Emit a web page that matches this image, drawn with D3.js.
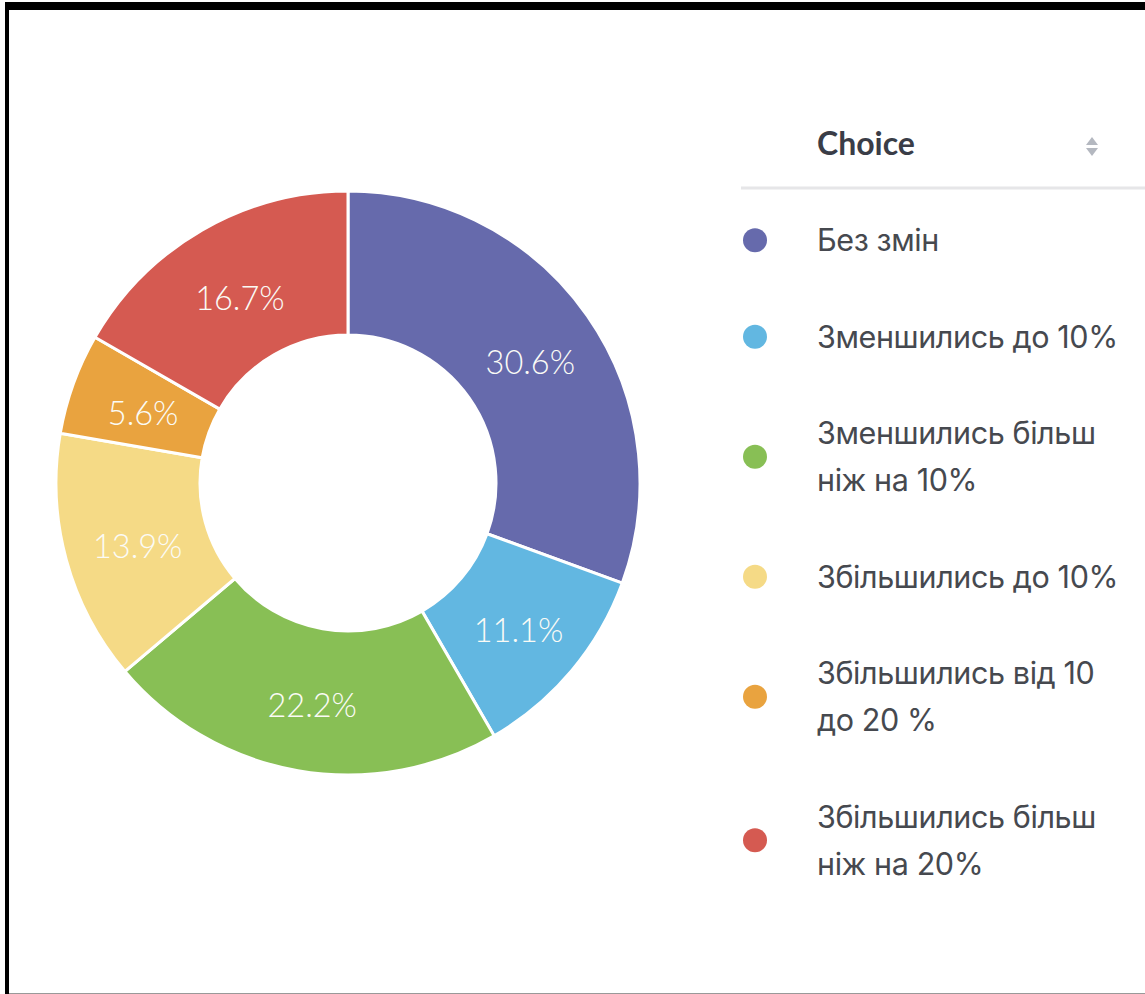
<!DOCTYPE html>
<html>
<head>
<meta charset="utf-8">
<script src="https://cdn.jsdelivr.net/npm/d3@7"></script>
<style>
  body { margin: 0; background: #fff; }
  svg { display: block; font-family: Lato, "Noto Sans", sans-serif; }
</style>
</head>
<body>
<script>
// Data
var categories = ["Без змін", "Зменшились до 10%", "Зменшились більш ніж на 10%",
                  "Збільшились до 10%", "Збільшились від 10 до 20 %", "Збільшились більш ніж на 20%"];
var shares = [30.6, 11.1, 22.2, 13.9, 5.6, 16.7];
var legendLines = [["Без змін"], ["Зменшились до 10%"], ["Зменшились більш", "ніж на 10%"],
                   ["Збільшились до 10%"], ["Збільшились від 10", "до 20 %"], ["Збільшились більш", "ніж на 20%"]];
var colors = ["#666aac", "#62b7e1", "#88bf55", "#f5da86", "#e9a33f", "#d55a51"];

var width = 1145, height = 994;
var cx = 348, cy = 483, outerR = 292, innerR = 148;

var svg = d3.select("body").append("svg")
    .attr("width", width)
    .attr("height", height);

// frame of the screenshot
svg.append("rect").attr("x", 5).attr("y", 2).attr("width", 1145).attr("height", 8).attr("rx", 3).attr("fill", "#000");
svg.append("rect").attr("x", 5).attr("y", 2).attr("width", 4).attr("height", 992).attr("fill", "#000");
svg.append("line").attr("x1", 9).attr("x2", width).attr("y1", 993.5).attr("y2", 993.5)
    .attr("stroke", "#999").attr("stroke-width", 1);

var color = d3.scaleOrdinal().domain(categories).range(colors);

var pie = d3.pie().sort(null).value(function(d) { return d.value; });
var arc = d3.arc().innerRadius(innerR).outerRadius(outerR);

var data = categories.map(function(c, i) { return {name: c, value: shares[i]}; });

var g = svg.append("g").attr("transform", "translate(" + cx + "," + cy + ")");

// slices
g.selectAll(".slice")
    .data(pie(data))
  .enter().append("path")
    .attr("class", "slice")
    .attr("d", arc)
    .attr("fill", function(d) { return color(d.data.name); })
    .attr("stroke", "#fff")
    .attr("stroke-width", 3);

// percent labels
g.selectAll(".pct")
    .data(pie(data))
  .enter().append("text")
    .attr("class", "pct")
    .attr("transform", function(d) { var c = arc.centroid(d); return "translate(" + (c[0] + 2) + "," + c[1] + ")"; })
    .attr("dy", "0.53em")
    .attr("text-anchor", "middle")
    .attr("fill", "#fbfbf6")
    .style("font-size", "32.5px")
    .style("font-weight", 300)
    .text(function(d) { return d3.format(".1f")(d.data.value) + "%"; });

// legend header
svg.append("text")
    .attr("x", 817).attr("y", 155)
    .attr("fill", "#3a3d47")
    .style("font-size", "32px")
    .style("font-weight", 700)
    .text("Choice");
svg.append("path").attr("d", "M1086,145 L1092,137 L1098,145 Z").attr("fill", "#b4b8c0");
svg.append("path").attr("d", "M1086,148 L1092,156 L1098,148 Z").attr("fill", "#b4b8c0");
svg.append("line")
    .attr("x1", 741).attr("x2", width).attr("y1", 188).attr("y2", 188)
    .attr("stroke", "#e6e6e8").attr("stroke-width", 3);

// legend rows
var lineH = 47, pad = 49.5, rowTop = 192;
var rows = legendLines.map(function(lines, i) {
    var h = lines.length * lineH + pad;
    var r = {lines: lines, name: categories[i], y: rowTop + h / 2};
    rowTop += h;
    return r;
});

var item = svg.selectAll(".legend")
    .data(rows)
  .enter().append("g")
    .attr("class", "legend")
    .attr("transform", function(d) { return "translate(0," + d.y + ")"; });

item.append("circle")
    .attr("cx", 755).attr("cy", 0).attr("r", 12)
    .attr("fill", function(d) { return color(d.name); });

item.each(function(d) {
    var n = d.lines.length;
    d3.select(this).selectAll("text")
        .data(d.lines)
      .enter().append("text")
        .attr("x", 817)
        .attr("y", function(t, j) { return (j - (n - 1) / 2) * lineH; })
        .attr("dy", "0.36em")
        .attr("fill", "#46494f")
        .style("font-family", "Inter, Lato, sans-serif")
        .style("font-size", "30.5px")
        .style("letter-spacing", "-0.4px")
        .text(function(t) { return t; });
});
</script>
</body>
</html>
